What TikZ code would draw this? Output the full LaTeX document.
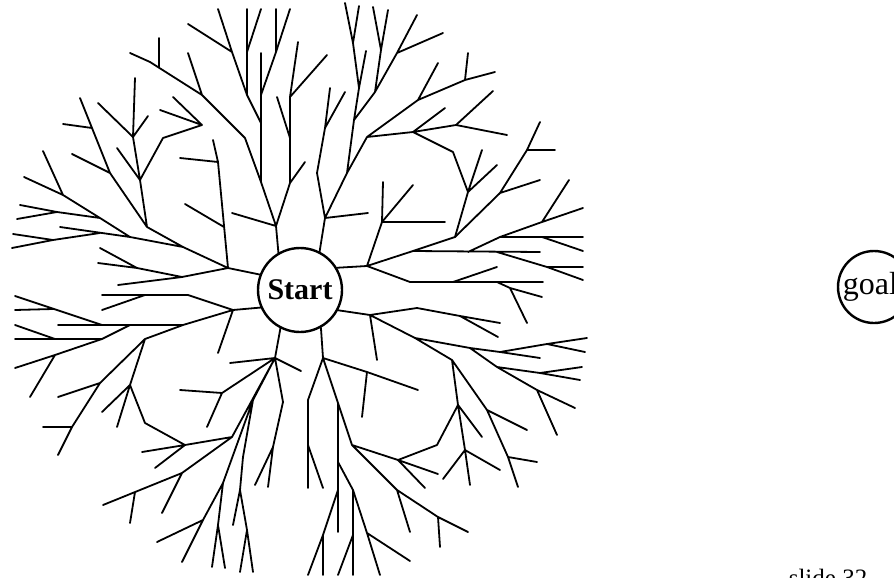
\documentclass[tikz,border=0pt]{standalone}
\usepackage{fontspec}
\setmainfont{Liberation Serif}

\begin{document}
\begin{tikzpicture}[x=1pt, y=-1pt,
  branch/.style={line width=1.8pt, line join=round, line cap=round},
  place/.style={circle, draw, line width=2.4pt, inner sep=0pt, fill=white}]
  \useasboundingbox (0,0) rectangle (894,578);
  \clip (0,0) rectangle (894,578);
  % Start and goal
  \node[place, minimum size=84pt, font=\bfseries\fontsize{30}{30}\selectfont] (start) at (300,290) {Start};
  \node[place, minimum size=72pt, font=\fontsize{32}{32}\selectfont] (goal) at (874,287) {\hspace*{-7pt}goal};
  \node[font=\fontsize{25}{25}\selectfont, anchor=base] (slide) at (828,586) {slide 32};
  % Upper left
  \draw[branch] (start.159) -- (228,268) -- (218,162) -- (213,140)
    (218,162) -- (180,158)
    (224,227) -- (185,204)
    (228,268) -- (183,247) -- (147,227) -- (140,180) -- (133,137) -- (135,78)
    (133,137) -- (148,116)
    (133,137) -- (98,103)
    (140,180) -- (117,148)
    (140,180) -- (163,138) -- (202,125) -- (160,110)
    (202,125) -- (173,97)
    (147,227) -- (110,173) -- (80,98)
    (110,173) -- (72,154)
    (92,128) -- (63,124)
    (183,247) -- (130,237) -- (100,218) -- (63,195) -- (24,177)
    (63,195) -- (43,151)
    (100,218) -- (57,212) -- (20,205)
    (57,212) -- (17,219)
    (130,237) -- (60,227)
    (100,233) -- (53,240) -- (13,234)
    (53,240) -- (12,248)
    (228,268) -- (182,277) -- (118,285)
    (182,277) -- (137,268) -- (100,248)
    (137,268) -- (98,263);
  % Upper centre
  \draw[branch] (start.120) -- (276,226) -- (290,183) -- (290,97) -- (298,42)
    (276,226) -- (232,213)
    (290,183) -- (305,162)
    (290,97) -- (327,55)
    (290,138) -- (277,97)
    (276,226) -- (261,182) -- (245,138) -- (202,95) -- (150,62) -- (130,53)
    (202,95) -- (188,53)
    (159,67) -- (159,38)
    (261,182) -- (261,53)
    (261,123) -- (247,95) -- (232,52) -- (218,9)
    (232,52) -- (188,24)
    (247,95) -- (247,52) -- (247,9)
    (247,52) -- (261,9)
    (261,95) -- (276,52) -- (276,9)
    (276,52) -- (290,9);
  % Upper right
  \draw[branch] (start.63) -- (325,218) -- (317,173) -- (325,128) -- (330,88)
    (325,128) -- (345,92)
    (325,218) -- (368,213)
    (325,218) -- (347,173) -- (354,120) -- (359,88) -- (353,43) -- (345,3)
    (353,43) -- (359,6)
    (359,88) -- (366,51)
    (347,173) -- (367,137)
    (354,120) -- (375,92) -- (381,50) -- (373,7)
    (381,50) -- (388,10)
    (375,92) -- (397,53) -- (417,15)
    (397,53) -- (443,33)
    (367,137) -- (413,132) -- (456,125) -- (493,91)
    (456,125) -- (507,135)
    (413,132) -- (445,108)
    (413,132) -- (453,152) -- (468,192) -- (455,237)
    (468,192) -- (482,150)
    (468,192) -- (497,165)
    (367,137) -- (418,100) -- (465,80) -- (495,72)
    (418,100) -- (438,63)
    (465,80) -- (468,53);
  % Right
  \draw[branch] (start.31) -- (367,266) -- (382,222) -- (383,182)
    (382,222) -- (413,185)
    (382,222) -- (445,222)
    (367,266) -- (413,251) -- (455,237) -- (500,193) -- (527,150) -- (540,122)
    (527,150) -- (555,150)
    (500,193) -- (540,180)
    (413,251) -- (540,252)
    (468,252) -- (500,237) -- (583,237)
    (500,237) -- (542,222) -- (583,208)
    (542,222) -- (569,180)
    (542,237) -- (583,251)
    (497,252) -- (547,267) -- (583,280)
    (547,267) -- (583,267)
    (367,266) -- (410,282) -- (543,282)
    (453,282) -- (497,267)
    (497,282) -- (510,288) -- (542,297)
    (510,288) -- (527,323);
  % Lower right
  \draw[branch] (start.332) -- (370,315) -- (417,308) -- (460,316) -- (500,323)
    (460,316) -- (498,337)
    (370,315) -- (377,360)
    (370,315) -- (415,338) -- (452,360)
    (415,338) -- (470,348) -- (500,352) -- (540,358)
    (500,352) -- (547,344) -- (587,338)
    (547,344) -- (585,352)
    (470,348) -- (497,367) -- (540,373) -- (582,367)
    (540,373) -- (580,380)
    (497,367) -- (537,390) -- (575,408)
    (537,390) -- (557,435)
    (452,360) -- (487,410) -- (508,457) -- (518,487)
    (487,410) -- (527,430)
    (508,457) -- (537,462)
    (452,360) -- (458,405) -- (465,450) -- (470,485)
    (458,405) -- (482,437)
    (465,450) -- (500,470)
    (465,450) -- (443,479)
    (458,405) -- (437,445) -- (398,460)
    (398,460) -- (438,474)
    (398,460) -- (425,488);
  % Lower centre
  \draw[branch] (start.299) -- (323,358) -- (367,372) -- (418,390)
    (367,372) -- (362,417)
    (323,358) -- (352,445) -- (397,490) -- (438,517) -- (468,532)
    (352,445) -- (398,460)
    (397,490) -- (410,532)
    (438,517) -- (440,547)
    (323,358) -- (308,400) -- (308,488)
    (308,445) -- (323,488)
    (338,403) -- (338,532)
    (338,462) -- (353,490) -- (353,575)
    (353,490) -- (367,533) -- (380,575)
    (367,533) -- (410,561)
    (353,535) -- (338,575)
    (338,490) -- (323,535) -- (308,575)
    (323,535) -- (323,575);
  % Lower left
  \draw[branch] (start.204) -- (233,310) -- (188,295) -- (102,295)
    (145,295) -- (102,310)
    (233,310) -- (218,353)
    (233,310) -- (183,325) -- (145,339)
    (183,325) -- (58,325)
    (102,325) -- (15,296)
    (53,309) -- (15,310)
    (130,325) -- (102,339) -- (55,355) -- (15,368)
    (102,339) -- (15,339)
    (55,339) -- (15,325)
    (55,355) -- (30,397)
    (145,339) -- (100,383) -- (72,427) -- (58,455)
    (100,383) -- (58,397)
    (72,427) -- (43,427)
    (145,339) -- (130,385) -- (102,412)
    (130,385) -- (117,427)
    (130,385) -- (145,423) -- (185,445)
    (185,445) -- (142,452)
    (185,445) -- (155,468);
  \draw[branch] (start.243) -- (275,358) -- (232,437) -- (185,445)
    (232,437) -- (182,473) -- (103,505)
    (182,473) -- (162,513)
    (135,492) -- (130,523)
    (275,358) -- (222,393) -- (207,427)
    (222,393) -- (180,390)
    (275,358) -- (230,363)
    (275,358) -- (301,371)
    (275,358) -- (253,400) -- (223,483) -- (203,520) -- (182,562)
    (203,520) -- (157,542)
    (223,483) -- (218,525) -- (212,567)
    (218,525) -- (225,568)
    (275,358) -- (283,402) -- (273,447) -- (268,487)
    (273,447) -- (255,485)
    (253,400) -- (243,457) -- (240,490) -- (233,525)
    (240,490) -- (247,530) -- (240,572)
    (247,530) -- (253,572);
\end{tikzpicture}
\end{document}
